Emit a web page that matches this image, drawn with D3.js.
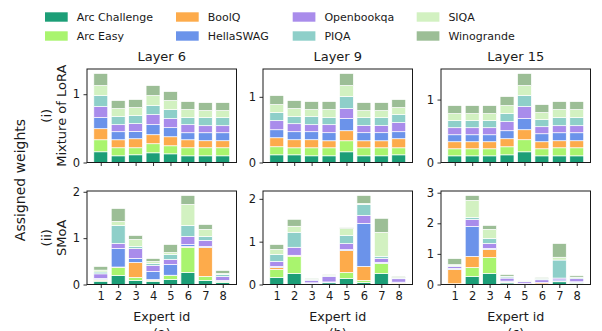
<!DOCTYPE html>
<html>
<head>
<meta charset="utf-8">
<script src="https://cdn.jsdelivr.net/npm/d3@7"></script>
<style>
  html, body { margin: 0; padding: 0; background: #fff; }
  svg { display: block; font-family: "DejaVu Sans", sans-serif; }
</style>
</head>
<body>
<svg id="chart" width="602" height="331"></svg>
<script>
// Benchmarks (stack order, bottom to top) and their colours
const tasks = ["Arc Challenge", "Arc Easy", "BoolQ", "HellaSWAG", "Openbookqa", "PIQA", "SIQA", "Winogrande"];
const taskColors = ["#1c9e77", "#a9f46e", "#fdab4b", "#6b93ea", "#a98ceb", "#8ecfc9", "#d2f1c1", "#9cbe96"];
const experts = [1, 2, 3, 4, 5, 6, 7, 8];
const layers = ["Layer 6", "Layer 9", "Layer 15"];
const panelTags = ["(a)", "(b)", "(c)"];

// Assigned weight per task (rows) for each expert (columns)
const moloraLayer6 = [
  [0.157, 0.098, 0.113, 0.142, 0.127, 0.098, 0.098, 0.098],
  [0.176, 0.118, 0.103, 0.133, 0.118, 0.118, 0.118, 0.118],
  [0.162, 0.117, 0.132, 0.132, 0.132, 0.117, 0.103, 0.103],
  [0.162, 0.118, 0.108, 0.147, 0.133, 0.103, 0.117, 0.117],
  [0.162, 0.103, 0.113, 0.147, 0.132, 0.118, 0.103, 0.103],
  [0.161, 0.118, 0.117, 0.132, 0.133, 0.103, 0.118, 0.118],
  [0.147, 0.117, 0.118, 0.147, 0.132, 0.118, 0.103, 0.103],
  [0.177, 0.118, 0.118, 0.147, 0.132, 0.117, 0.117, 0.117]
];
const moloraLayer9 = [
  [0.117, 0.117, 0.102, 0.102, 0.163, 0.102, 0.102, 0.117],
  [0.123, 0.107, 0.122, 0.122, 0.168, 0.122, 0.122, 0.107],
  [0.137, 0.123, 0.123, 0.107, 0.153, 0.107, 0.107, 0.138],
  [0.122, 0.122, 0.122, 0.123, 0.184, 0.123, 0.123, 0.107],
  [0.138, 0.122, 0.107, 0.122, 0.153, 0.107, 0.107, 0.138],
  [0.122, 0.107, 0.122, 0.107, 0.183, 0.122, 0.122, 0.122],
  [0.123, 0.123, 0.107, 0.122, 0.168, 0.107, 0.107, 0.107],
  [0.137, 0.122, 0.123, 0.123, 0.184, 0.122, 0.122, 0.122]
];
const moloraLayer15 = [
  [0.106, 0.106, 0.106, 0.122, 0.170, 0.106, 0.106, 0.106],
  [0.112, 0.112, 0.112, 0.128, 0.192, 0.112, 0.128, 0.128],
  [0.112, 0.112, 0.112, 0.128, 0.159, 0.112, 0.112, 0.112],
  [0.111, 0.111, 0.111, 0.127, 0.176, 0.127, 0.127, 0.127],
  [0.112, 0.112, 0.112, 0.144, 0.191, 0.112, 0.112, 0.112],
  [0.112, 0.112, 0.112, 0.128, 0.176, 0.112, 0.128, 0.128],
  [0.112, 0.112, 0.112, 0.127, 0.159, 0.112, 0.127, 0.127],
  [0.127, 0.127, 0.127, 0.144, 0.192, 0.127, 0.128, 0.128]
];
const smoaLayer6 = [
  [0.070, 0.194, 0.086, 0.065, 0.108, 0.259, 0.086, 0.043],
  [0.020, 0.173, 0.065, 0.021, 0.086, 0.540, 0.087, 0.022],
  [0.020, 0.010, 0.324, 0.022, 0.006, 0.021, 0.626, 0.007],
  [0.020, 0.400, 0.086, 0.173, 0.232, 0.043, 0.021, 0.014],
  [0.100, 0.108, 0.216, 0.129, 0.108, 0.173, 0.130, 0.087],
  [0.040, 0.388, 0.043, 0.043, 0.107, 0.237, 0.086, 0.043],
  [0.040, 0.087, 0.151, 0.043, 0.043, 0.454, 0.151, 0.021],
  [0.080, 0.280, 0.087, 0.065, 0.173, 0.194, 0.108, 0.065]
];
const smoaLayer9 = [
  [0.163, 0.257, 0.020, 0.040, 0.140, 0.047, 0.257, 0.020],
  [0.187, 0.397, 0.005, 0.005, 0.140, 0.047, 0.233, 0.005],
  [0.047, 0.023, 0.005, 0.005, 0.514, 0.327, 0.005, 0.020],
  [0.023, 0.005, 0.010, 0.010, 0.020, 1.004, 0.023, 0.010],
  [0.117, 0.187, 0.060, 0.130, 0.140, 0.187, 0.093, 0.080],
  [0.163, 0.350, 0.010, 0.020, 0.187, 0.257, 0.047, 0.020],
  [0.117, 0.140, 0.010, 0.005, 0.163, 0.023, 0.560, 0.005],
  [0.117, 0.163, 0.020, 0.020, 0.023, 0.187, 0.327, 0.030]
];
const smoaLayer15 = [
  [0.020, 0.262, 0.360, 0.050, 0.010, 0.010, 0.090, 0.040],
  [0.005, 0.294, 0.523, 0.020, 0.005, 0.005, 0.010, 0.020],
  [0.470, 0.360, 0.262, 0.010, 0.005, 0.040, 0.010, 0.010],
  [0.030, 0.980, 0.033, 0.030, 0.010, 0.010, 0.040, 0.020],
  [0.065, 0.229, 0.164, 0.100, 0.060, 0.090, 0.060, 0.100],
  [0.030, 0.065, 0.164, 0.040, 0.010, 0.030, 0.590, 0.040],
  [0.030, 0.556, 0.294, 0.020, 0.010, 0.010, 0.090, 0.010],
  [0.196, 0.164, 0.131, 0.057, 0.020, 0.035, 0.450, 0.050]
];

const rows = [
  { label: ["(i)", "Mixture of LoRA"], panels: [moloraLayer6, moloraLayer9, moloraLayer15], yTicks: [[0, 1], [0, 1], [0, 1]] },
  { label: ["(ii)", "SMoA"], panels: [smoaLayer6, smoaLayer9, smoaLayer15], yTicks: [[0, 1, 2], [0, 1, 2], [0, 1, 2, 3]] }
];

const svg = d3.select("#chart");
const colLeft = [87, 263, 441];
const panelW = 149.5;
const rowTop = [69, 191];
const panelH = 93.5;
const ink = "#1a1a1a";

// Legend: two rows, four columns
const legendX = [45, 176, 292.7, 416.7];
const legendY = [17, 36];
tasks.forEach((t, i) => {
  const col = Math.floor(i / 2), row = i % 2;
  const g = svg.append("g").attr("transform", `translate(${legendX[col]},${legendY[row]})`);
  g.append("rect").attr("x", 0).attr("y", -4.7).attr("width", 22.7).attr("height", 9.4).attr("fill", taskColors[i]);
  g.append("text").attr("x", 31.7).attr("y", 0).attr("dy", "0.36em")
    .attr("font-size", 11).attr("fill", ink).text(t);
});

const x = d3.scaleLinear().domain([0.21, 8.79]);

rows.forEach((rowDef, r) => {
  const top = rowTop[r];
  const bottom = top + panelH;

  // Row label (two lines, rotated)
  const cy = top + panelH / 2;
  [[46.7, rowDef.label[0]], [61, rowDef.label[1]]].forEach(([lx, txt]) => {
    svg.append("text")
      .attr("transform", `translate(${lx},${cy}) rotate(-90)`)
      .attr("text-anchor", "middle").attr("dy", "0.35em")
      .attr("font-size", 13).attr("fill", ink).text(txt);
  });

  rowDef.panels.forEach((data, c) => {
    const left = colLeft[c];
    const xs = x.copy().range([left, left + panelW]);

    // Stack series per expert
    const rowsByExpert = experts.map((e, j) => {
      const o = { expert: e };
      tasks.forEach((t, k) => { o[t] = data[k][j]; });
      return o;
    });
    const stacked = d3.stack().keys(tasks)(rowsByExpert);
    const maxTotal = d3.max(stacked[stacked.length - 1], d => d[1]);
    const y = d3.scaleLinear().domain([0, maxTotal * 1.05]).range([bottom, top]);

    const g = svg.append("g");
    const bw = xs(1.4) - xs(0.6);
    stacked.forEach((layer, k) => {
      g.selectAll(null).data(layer).enter().append("rect")
        .attr("x", d => xs(d.data.expert) - bw / 2)
        .attr("y", d => y(d[1]))
        .attr("width", bw)
        .attr("height", d => Math.max(0, y(d[0]) - y(d[1])))
        .attr("fill", taskColors[k])
        .attr("stroke", "#fff").attr("stroke-width", 0.7);
    });

    // Axes
    const xAxis = d3.axisBottom(xs).tickValues(experts).tickSize(3.5).tickPadding(3.5)
      .tickFormat(r === 1 ? d3.format("d") : () => "");
    const ax = svg.append("g").attr("transform", `translate(0,${bottom})`).call(xAxis);
    const yAxis = d3.axisLeft(y).tickValues(rowDef.yTicks[c]).tickSize(3.5).tickPadding(3.5).tickFormat(d3.format("d"));
    const ay = svg.append("g").attr("transform", `translate(${left},0)`).call(yAxis);
    [ax, ay].forEach(a => {
      a.select(".domain").remove();
      a.selectAll(".tick line").attr("stroke", ink).attr("stroke-width", 0.9);
      a.selectAll(".tick text").attr("font-size", 11.5).attr("fill", ink)
        .attr("font-family", "DejaVu Sans, sans-serif");
    });

    // Frame
    svg.append("rect").attr("x", left).attr("y", top).attr("width", panelW).attr("height", panelH)
      .attr("fill", "none").attr("stroke", ink).attr("stroke-width", 1);

    if (r === 0) {
      svg.append("text").attr("x", left + panelW / 2).attr("y", 61)
        .attr("text-anchor", "middle").attr("font-size", 13).attr("fill", ink).text(layers[c]);
    } else {
      svg.append("text").attr("x", left + panelW / 2).attr("y", 321)
        .attr("text-anchor", "middle").attr("font-size", 12.7).attr("fill", ink).text("Expert id");
      svg.append("text").attr("x", left + panelW / 2).attr("y", 336.5)
        .attr("text-anchor", "middle").attr("font-size", 12.7).attr("fill", ink).text(panelTags[c]);
    }
  });
});

// Shared y-axis title
svg.append("text")
  .attr("transform", `translate(20,180) rotate(-90)`)
  .attr("text-anchor", "middle").attr("dy", "0.35em")
  .attr("font-size", 14).attr("fill", ink).text("Assigned weights");
</script>
</body>
</html>
